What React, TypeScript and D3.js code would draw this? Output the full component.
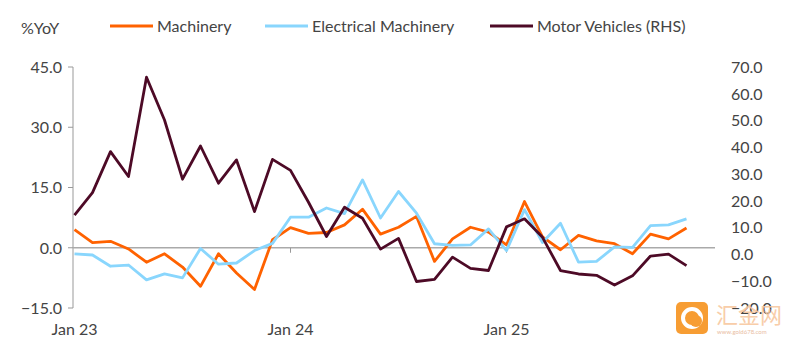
import React from "react";
import * as d3 from "d3";

const months: string[] = d3.range(35).map((i) => {
  const d = new Date(2023, i, 1);
  return d3.timeFormat("%b %y")(d);
});
const machinery: number[] = [
  4.5, 1.3, 1.6, -0.3, -3.6, -1.5, -4.8, -9.6, -1.5, -6.3, -10.4, 2.0,
  5.0, 3.6, 3.8, 5.7, 9.6, 3.4, 5.1, 7.8, -3.4, 2.2, 5.1, 3.9,
  0.7, 11.5, 2.7, -0.5, 3.1, 1.7, 1.0, -1.5, 3.4, 2.2, 4.9,
];
const electrical: number[] = [
  -1.5, -1.8, -4.6, -4.3, -8.0, -6.5, -7.5, -0.2, -4.1, -3.8, -0.7, 1.1,
  7.6, 7.6, 9.9, 8.5, 16.9, 7.4, 14.0, 8.6, 1.0, 0.6, 0.7, 4.7,
  -0.7, 9.5, 1.3, 6.1, -3.6, -3.4, 0.2, 0.1, 5.5, 5.7, 7.2,
];
const motorVehicles: number[] = [
  14.7, 23.1, 38.4, 29.1, 66.2, 50.2, 28.1, 40.5, 26.6, 35.3, 16.0, 35.5,
  31.4, 19.5, 6.7, 17.6, 13.5, 2.0, 6.0, -10.1, -9.3, -1.0, -5.2, -6.0,
  10.3, 13.3, 6.4, -6.0, -7.3, -7.8, -11.4, -8.0, -0.6, 0.1, -4.2,
];
const leftTicks: number[] = [-15, 0, 15, 30, 45];
const rightTicks: number[] = [-20, -10, 0, 10, 20, 30, 40, 50, 60, 70];
const xTickIdx: number[] = [0, 12, 24];
const xTickLabels: string[] = ["Jan 23", "Jan 24", "Jan 25"];
const seriesNames: string[] = ["Machinery", "Electrical Machinery", "Motor Vehicles (RHS)"];
const seriesColors: string[] = ["#FF6200", "#89D6FD", "#4D0A26"];

const FONT = "Lato, 'Noto Sans', sans-serif";
const TXT = "#444";
const FS = 16;

export default function App() {
  const x = d3.scaleLinear().domain([0, 35.6]).range([74.5, 715.3]);
  const yL = d3.scaleLinear().domain([-15, 45]).range([308, 67]);
  const yR = d3.scaleLinear().domain([-20, 70]).range([308, 67]);
  const lineL = d3
    .line<number>()
    .x((_, i) => x(i))
    .y((d) => yL(d));
  const lineR = d3
    .line<number>()
    .x((_, i) => x(i))
    .y((d) => yR(d));
  const axisX = 73;
  const legend = [
    { x1: 110, x2: 153, tx: 157 },
    { x1: 265, x2: 308, tx: 312 },
    { x1: 490, x2: 533, tx: 537 },
  ];
  return (
    <svg
      width={793}
      height={356}
      style={{ position: "absolute", left: 0, top: 0, background: "#fff" }}
      fontFamily={FONT}
    >
      <rect width={793} height={356} fill="#fff" />
      <text x={21} y={34} fontSize={FS} fill={TXT}>%YoY</text>
      {legend.map((l, i) => (
        <g key={seriesNames[i]}>
          <line x1={l.x1} x2={l.x2} y1={26} y2={26} stroke={seriesColors[i]} strokeWidth={3} />
          <text x={l.tx} y={32} fontSize={FS} fill={TXT}>{seriesNames[i]}</text>
        </g>
      ))}
      {/* left axis */}
      <line x1={axisX} x2={axisX} y1={yL(45)} y2={yL(-15)} stroke="#999" strokeWidth={1} />
      {leftTicks.map((t) => (
        <g key={t}>
          <line x1={axisX - 5} x2={axisX} y1={yL(t)} y2={yL(t)} stroke="#999" />
          <text x={62} y={yL(t)} dy="0.36em" textAnchor="end" fontSize={FS} fill={TXT}>
            {d3.format(".1f")(t)}
          </text>
        </g>
      ))}
      {/* right axis labels */}
      {rightTicks.map((t) => (
        <text key={t} x={731} y={yR(t)} dy="0.36em" fontSize={FS} fill={TXT}>
          {d3.format(".1f")(t)}
        </text>
      ))}
      {/* zero line */}
      <line x1={axisX} x2={715} y1={yL(0)} y2={yL(0)} stroke="#aaa" strokeWidth={1.5} />
      {xTickIdx.map((d, i) => (
        <g key={months[d]}>
          {i > 0 && <line x1={x(d)} x2={x(d)} y1={yL(0)} y2={yL(0) + 5} stroke="#999" />}
          <text x={x(d)} y={335} textAnchor="middle" fontSize={FS} fill={TXT}>
            {xTickLabels[i]}
          </text>
        </g>
      ))}
      <path d={lineL(machinery) ?? ""} fill="none" stroke={seriesColors[0]} strokeWidth={2.8} strokeLinejoin="round" />
      <path d={lineL(electrical) ?? ""} fill="none" stroke={seriesColors[1]} strokeWidth={2.8} strokeLinejoin="round" />
      <path d={lineR(motorVehicles) ?? ""} fill="none" stroke={seriesColors[2]} strokeWidth={2.8} strokeLinejoin="round" />
      {/* watermark */}
      <g opacity={0.9}>
        <rect x={676} y={302} width={32} height={32} rx={5} fill="#F7931E" />
        <circle cx={692} cy={318} r={9} fill="none" stroke="#fff" strokeWidth={4} />
        <circle cx={696} cy={321} r={6} fill="#F7931E" />
        <text x={716} y={323} fontSize={22} fill="#F8C8A0" fontFamily="'Noto Sans CJK SC', sans-serif">汇金网</text>
        <text x={717} y={334} fontSize={6} fill="#E8B898">www.gold678.com</text>
      </g>
    </svg>
  );
}
